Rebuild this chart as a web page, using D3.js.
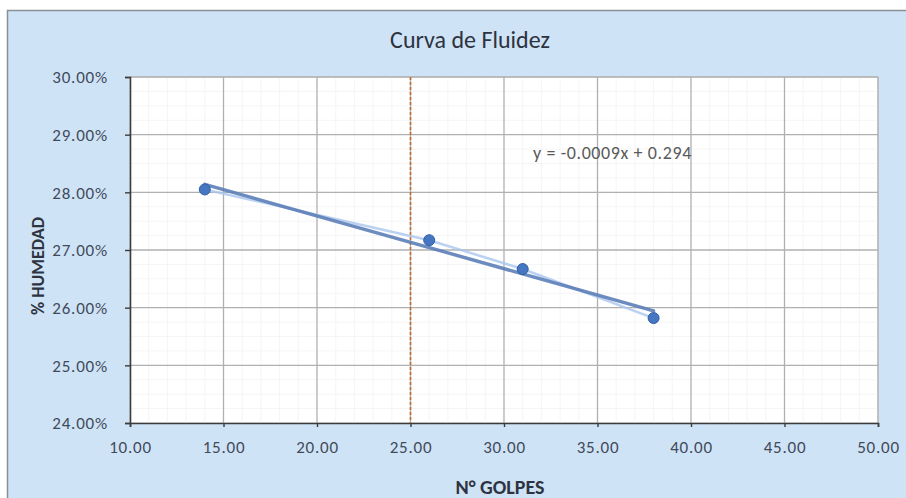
<!DOCTYPE html>
<html>
<head>
<meta charset="utf-8">
<script src="https://cdn.jsdelivr.net/npm/d3@7"></script>
<style>
  html, body { margin: 0; padding: 0; background: #ffffff; }
  svg { display: block; }
  text { font-family: Carlito, Lato, "Liberation Sans", sans-serif; }
</style>
</head>
<body>
<svg id="chart" width="906" height="498"></svg>
<script>
// Liquid limit test: number of blows vs. moisture content
const golpes = [14, 26, 31, 38];
const humedad = [0.2805, 0.2717, 0.2667, 0.2582];
const xTicks = [10, 15, 20, 25, 30, 35, 40, 45, 50];
const yTicks = [0.24, 0.25, 0.26, 0.27, 0.28, 0.29, 0.30];
const referenceBlows = 25;
const equationLabel = "y = -0.0009x + 0.294";
const chartTitle = "Curva de Fluidez";
const xTitle = "N° GOLPES";
const yTitle = "% HUMEDAD";

const svg = d3.select("#chart");
const W = 906, H = 498;
const plot = { left: 130, right: 878, top: 77, bottom: 423 };

// chart area background
svg.append("rect")
  .attr("x", 7.5).attr("y", 10.5).attr("width", W + 10).attr("height", H)
  .attr("fill", "#cfe3f6").attr("stroke", "#8a8f96").attr("stroke-width", 1.5);

const x = d3.scaleLinear().domain([10, 50]).range([plot.left, plot.right]);
const y = d3.scaleLinear().domain([0.24, 0.30]).range([plot.bottom, plot.top]);

// plot area
svg.append("rect")
  .attr("x", plot.left).attr("y", plot.top)
  .attr("width", plot.right - plot.left).attr("height", plot.bottom - plot.top)
  .attr("fill", "#ffffff").attr("stroke", "#c8c8c8");

// minor gridlines
const minorX = d3.range(10, 50.001, 1).filter(v => v % 5 !== 0);
const minorY = d3.range(0.24, 0.3001, 0.0025).filter(v => Math.abs(v * 100 - Math.round(v * 100)) > 1e-6);
svg.append("g").selectAll("line").data(minorX).join("line")
  .attr("x1", d => x(d)).attr("x2", d => x(d))
  .attr("y1", plot.top).attr("y2", plot.bottom)
  .attr("stroke", "#f5f5f5").attr("stroke-width", 1);
svg.append("g").selectAll("line").data(minorY).join("line")
  .attr("x1", plot.left).attr("x2", plot.right)
  .attr("y1", d => y(d)).attr("y2", d => y(d))
  .attr("stroke", "#f5f5f5").attr("stroke-width", 1);

// major gridlines
svg.append("g").selectAll("line").data(xTicks.slice(1)).join("line")
  .attr("x1", d => x(d)).attr("x2", d => x(d))
  .attr("y1", plot.top).attr("y2", plot.bottom)
  .attr("stroke", "#b0b0b0").attr("stroke-width", 1.3);
svg.append("g").selectAll("line").data(yTicks.slice(1)).join("line")
  .attr("x1", plot.left).attr("x2", plot.right)
  .attr("y1", d => y(d)).attr("y2", d => y(d))
  .attr("stroke", "#b0b0b0").attr("stroke-width", 1.3);

// axes
const xAxis = d3.axisBottom(x).tickValues(xTicks).tickFormat(d3.format(".2f")).tickSize(4).tickPadding(14);
const yAxis = d3.axisLeft(y).tickValues(yTicks).tickFormat(d3.format(".2%")).tickSize(5).tickPadding(17);

const gx = svg.append("g").attr("transform", `translate(0,${plot.bottom})`).call(xAxis);
const gy = svg.append("g").attr("transform", `translate(${plot.left},0)`).call(yAxis);
[gx, gy].forEach(g => {
  g.select(".domain").attr("stroke", "#3c3c3c").attr("stroke-width", 1.6);
  g.selectAll(".tick line").attr("stroke", "#3c3c3c").attr("stroke-width", 1.4);
  g.selectAll(".tick text").attr("fill", "#3f4a5a").attr("font-size", 17)
    .attr("letter-spacing", "0.8px");
});
gy.selectAll(".tick text").attr("dy", "0.35em");

// reference line at 25 blows
svg.append("line")
  .attr("x1", x(referenceBlows)).attr("x2", x(referenceBlows))
  .attr("y1", plot.top).attr("y2", plot.bottom)
  .attr("stroke", "#c46a2c").attr("stroke-width", 1.6)
  .attr("stroke-dasharray", "3,2");

// series line
const pts = golpes.map((g, i) => [g, humedad[i]]);
svg.append("path")
  .datum(pts)
  .attr("d", d3.line().x(d => x(d[0])).y(d => y(d[1])))
  .attr("fill", "none").attr("stroke", "#a9c6ee").attr("stroke-width", 2.5)
  .attr("opacity", 0.8);

// linear trendline (least squares)
const mx = d3.mean(golpes), my = d3.mean(humedad);
const slope = d3.sum(golpes, (g, i) => (g - mx) * (humedad[i] - my)) / d3.sum(golpes, g => (g - mx) ** 2);
const intercept = my - slope * mx;
const xMin = d3.min(golpes), xMax = d3.max(golpes);
svg.append("line")
  .attr("x1", x(xMin)).attr("y1", y(slope * xMin + intercept))
  .attr("x2", x(xMax)).attr("y2", y(slope * xMax + intercept))
  .attr("stroke", "#5d7fb8").attr("stroke-width", 3.4)
  .attr("stroke-linecap", "round").attr("opacity", 0.9);

// markers
svg.append("g").selectAll("circle").data(pts).join("circle")
  .attr("cx", d => x(d[0])).attr("cy", d => y(d[1])).attr("r", 5.5)
  .attr("fill", "#4676c2").attr("stroke", "#2f5ea8").attr("stroke-width", 1);

// equation
svg.append("text")
  .attr("x", 533).attr("y", 159)
  .attr("font-size", 18).attr("fill", "#5a5a5a").attr("letter-spacing", "0.6px")
  .text(equationLabel);

// titles
svg.append("text")
  .attr("x", 470).attr("y", 48).attr("text-anchor", "middle")
  .attr("font-size", 24).attr("fill", "#2d3340")
  .text(chartTitle);
svg.append("text")
  .attr("x", 500).attr("y", 494).attr("text-anchor", "middle")
  .attr("font-size", 20).attr("font-weight", "bold").attr("fill", "#2d3340")
  .text(xTitle);
svg.append("text")
  .attr("transform", `translate(44,266) rotate(-90)`)
  .attr("text-anchor", "middle")
  .attr("font-size", 18).attr("font-weight", "bold").attr("fill", "#2d3340")
  .text(yTitle);
</script>
</body>
</html>
